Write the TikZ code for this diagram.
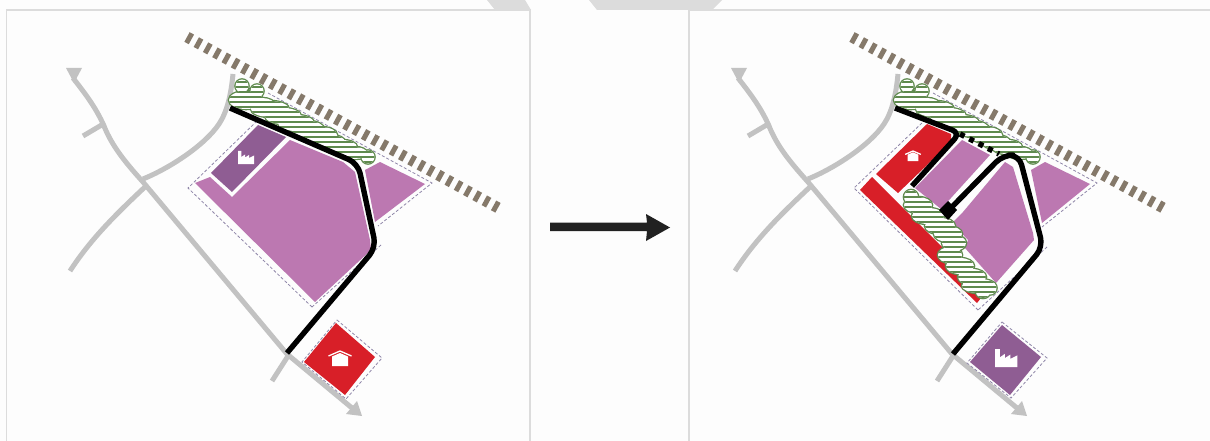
\documentclass[tikz,border=0pt]{standalone}
\definecolor{roadgray}{HTML}{C2C2C2}
\definecolor{railbrown}{HTML}{85796A}
\definecolor{plotpink}{HTML}{BC78B1}
\definecolor{factorypurple}{HTML}{8F5D93}
\definecolor{housered}{HTML}{D81F28}
\definecolor{treegreen}{HTML}{5F8A4E}
\definecolor{sitedash}{HTML}{8F86A8}
\definecolor{panelline}{HTML}{DCDCDC}
\definecolor{paper}{HTML}{FDFDFD}
\tikzset{
  road/.style={draw=roadgray,line width=5pt,line cap=butt,line join=round},
  roadhead/.style={fill=roadgray},
  rail/.style={draw=railbrown,line width=11pt,dash pattern=on 5pt off 5.6pt},
  access/.style={draw=black,line width=5.4pt,line join=round},
  sitebound/.style={draw=sitedash,line width=0.8pt,densely dashed},
  panel/.style={draw=panelline,line width=1.3pt},
  hatchline/.style={draw=treegreen,line width=1.5pt},
  treeedge/.style={draw=treegreen,line width=2.6pt},
  whiteicon/.style={fill=white}
}
\newcommand{\baseroads}{%
  \draw[rail] (187,37) -- (502,210);
  \draw[road] (73,78) .. controls (88,97) and (97,110) .. (104,126) .. controls (112,146) and (125,162) .. (143,182) -- (287,354) -- (352,408);
  \fill[roadhead] (66,68) -- (82,68) -- (74,83) -- cycle;
  \fill[roadhead] (362,416) -- (346,414) -- (357,401) -- cycle;
  \draw[road] (70,271) .. controls (90,240) and (115,215) .. (146,186);
  \draw[road] (143,179) .. controls (170,168) and (205,145) .. (219,124) .. controls (227,112) and (231,95) .. (233,74);
  \draw[road] (83,136) -- (105,123);
  \draw[road] (272,381) -- (288,356);
}
\newcommand{\housemark}[3]{%
  \begin{scope}[shift={(#1,#2)},scale=#3]
    \draw[white,line width=1.3pt] (-11.5,5) -- (0,0) -- (11.5,5);
    \fill[whiteicon] (-8,5.5) -- (0,2) -- (8,5.5) -- (8,15) -- (-8,15) -- cycle;
  \end{scope}}
\newcommand{\factorymark}[3]{%
  \begin{scope}[shift={(#1,#2)},scale=#3]
    \fill[whiteicon] (0,0) -- (3.4,0) -- (3.4,6) -- (7,3.5) -- (7,6.5) -- (11,4) -- (11,7) -- (16,4.5) -- (16,13) -- (0,13) -- cycle;
  \end{scope}}
\newcommand{\treeband}[2]{%
  \draw[treeedge] #1;
  \fill[white] #1;
  \begin{scope}
    \clip #1;
    \foreach \yy in {#2} {\draw[hatchline] (200,\yy) -- (1100,\yy);}
  \end{scope}}
\begin{document}
\begin{tikzpicture}[x=1pt,y=-1pt]
\useasboundingbox (0,0) rectangle (1210,441);
\fill[paper] (0,0) rectangle (1210,441);
% top remains
\fill[panelline] (487,0) -- (525,0) -- (531,10) -- (495,10) -- cycle;
\fill[panelline] (589,0) -- (722,0) -- (712,10) -- (597,10) -- cycle;
% panels
\draw[panel] (6.5,441) -- (6.5,10) -- (530,10) -- (530,441);
\draw[panel] (689,441) -- (689,10) -- (1210,10);
% ---------- left plan
\baseroads
\draw[sitebound] (312,307) -- (188,188) -- (258,120);
\draw[sitebound] (268,93) -- (432,183) -- (378,226);
\draw[sitebound] (381,245) -- (312,307);
\fill[plotpink] (195,183) -- (210,177) -- (232,197) -- (290,140) -- (343,162) -- (355,172) -- (370,240) -- (371,250) -- (315,302) -- cycle;
\fill[plotpink] (365,170) -- (380,162) -- (425,184) -- (375,222) -- cycle;
\fill[factorypurple] (258,125) -- (286,137) -- (232,192) -- (211,173) -- cycle;
\factorymark{238}{151}{1}
\def\lefttrees{(242,86) circle (6.5) (257,91) circle (6.5) (246,100) ellipse (17 and 9) (262,105) ellipse (13 and 7) (270,109) ellipse (19 and 8) (283,116) ellipse (18 and 8) (296,123) ellipse (18 and 8) (308,129) ellipse (16 and 8) (321,135) ellipse (16 and 8) (331,142) ellipse (14 and 7) (342,147) ellipse (15 and 7) (355,153) ellipse (12 and 6) (368,157) circle (6.5)}
\treeband{\lefttrees}{82,87,...,167}
\draw[access,rounded corners=10pt] (230,108) -- (358,163.5) -- (376,247.5) -- (287,353);
% house plot, left
\draw[sitebound] (337,320) -- (382,358) -- (346,399) -- (302,362) -- cycle;
\fill[housered] (336,323) -- (375,357) -- (345,395) -- (304,362) -- cycle;
\housemark{340}{351}{1}
% ---------- arrow
\fill[black!87] (550,222.5) -- (647,222.5) -- (646,214) -- (670,227.5) -- (646,241) -- (647,231) -- (550,231) -- cycle;
% ---------- right plan
\begin{scope}[shift={(665,0)}]
\baseroads
\end{scope}
\draw[sitebound] (978,310) -- (854,188) -- (923,122);
\draw[sitebound] (933,93) -- (1097,183) -- (1042,227);
\draw[sitebound] (1047,247) -- (978,310);
\fill[plotpink] (962,140) -- (990,155) -- (941,209) -- (915,188) -- cycle;
\fill[plotpink] (1005,162) -- (1013,167) -- (1033,233) -- (1034,240) -- (996,283) -- (965,248) -- (968,240) -- (952,223) -- (963,212) -- cycle;
\fill[plotpink] (1031,170) -- (1045,162) -- (1090,184) -- (1042,223) -- cycle;
\fill[housered] (927,124) -- (951,134) -- (951,142) -- (898,193) -- (876,174) -- cycle;
\fill[housered] (860,190) -- (872,177) -- (943,248) -- (938,257) -- (981,298) -- (977,303) -- cycle;
\housemark{913}{151}{0.68}
\def\righttreesa{(907,86) circle (6.5) (922,91) circle (6.5) (911,100) ellipse (17 and 9) (927,105) ellipse (13 and 7) (935,109) ellipse (19 and 8) (948,116) ellipse (18 and 8) (961,123) ellipse (18 and 8) (973,129) ellipse (16 and 8) (986,135) ellipse (16 and 8) (996,142) ellipse (14 and 7) (1007,147) ellipse (15 and 7) (1020,153) ellipse (12 and 6) (1033,157) circle (6.5)}
\treeband{\righttreesa}{82,87,...,167}
\def\righttreesb{(911,197) circle (7) (918,205) ellipse (14 and 8) (928,216) ellipse (16 and 8) (940,226) ellipse (15 and 8) (948,234) ellipse (14 and 8) (954,243) ellipse (12 and 8) (950,255) ellipse (12 and 8) (960,266) ellipse (14 and 8) (972,277) ellipse (14 and 8) (979,286) ellipse (17 and 7) (990,288) circle (6.5) (983,292) ellipse (7 and 6)}
\treeband{\righttreesb}{192,197,...,302}
\draw[access,rounded corners=8pt] (895,108) -- (960,133) -- (912,186);
\draw[access,dash pattern=on 5pt off 5.5pt] (960,134) -- (999,154);
\draw[access,rounded corners=10pt] (947,212) -- (1003,155) -- (1019,155) -- (1043,247) -- (953,354);
\fill[black] (948,201) -- (957,210) -- (948,220) -- (939,210) -- cycle;
% factory plot, right
\draw[sitebound] (1002,322) -- (1047,358) -- (1011,398) -- (967,363) -- cycle;
\fill[factorypurple] (1002,325) -- (1041,357) -- (1010,395) -- (970,362) -- cycle;
\factorymark{995}{349}{1.4}
\end{tikzpicture}
\end{document}
